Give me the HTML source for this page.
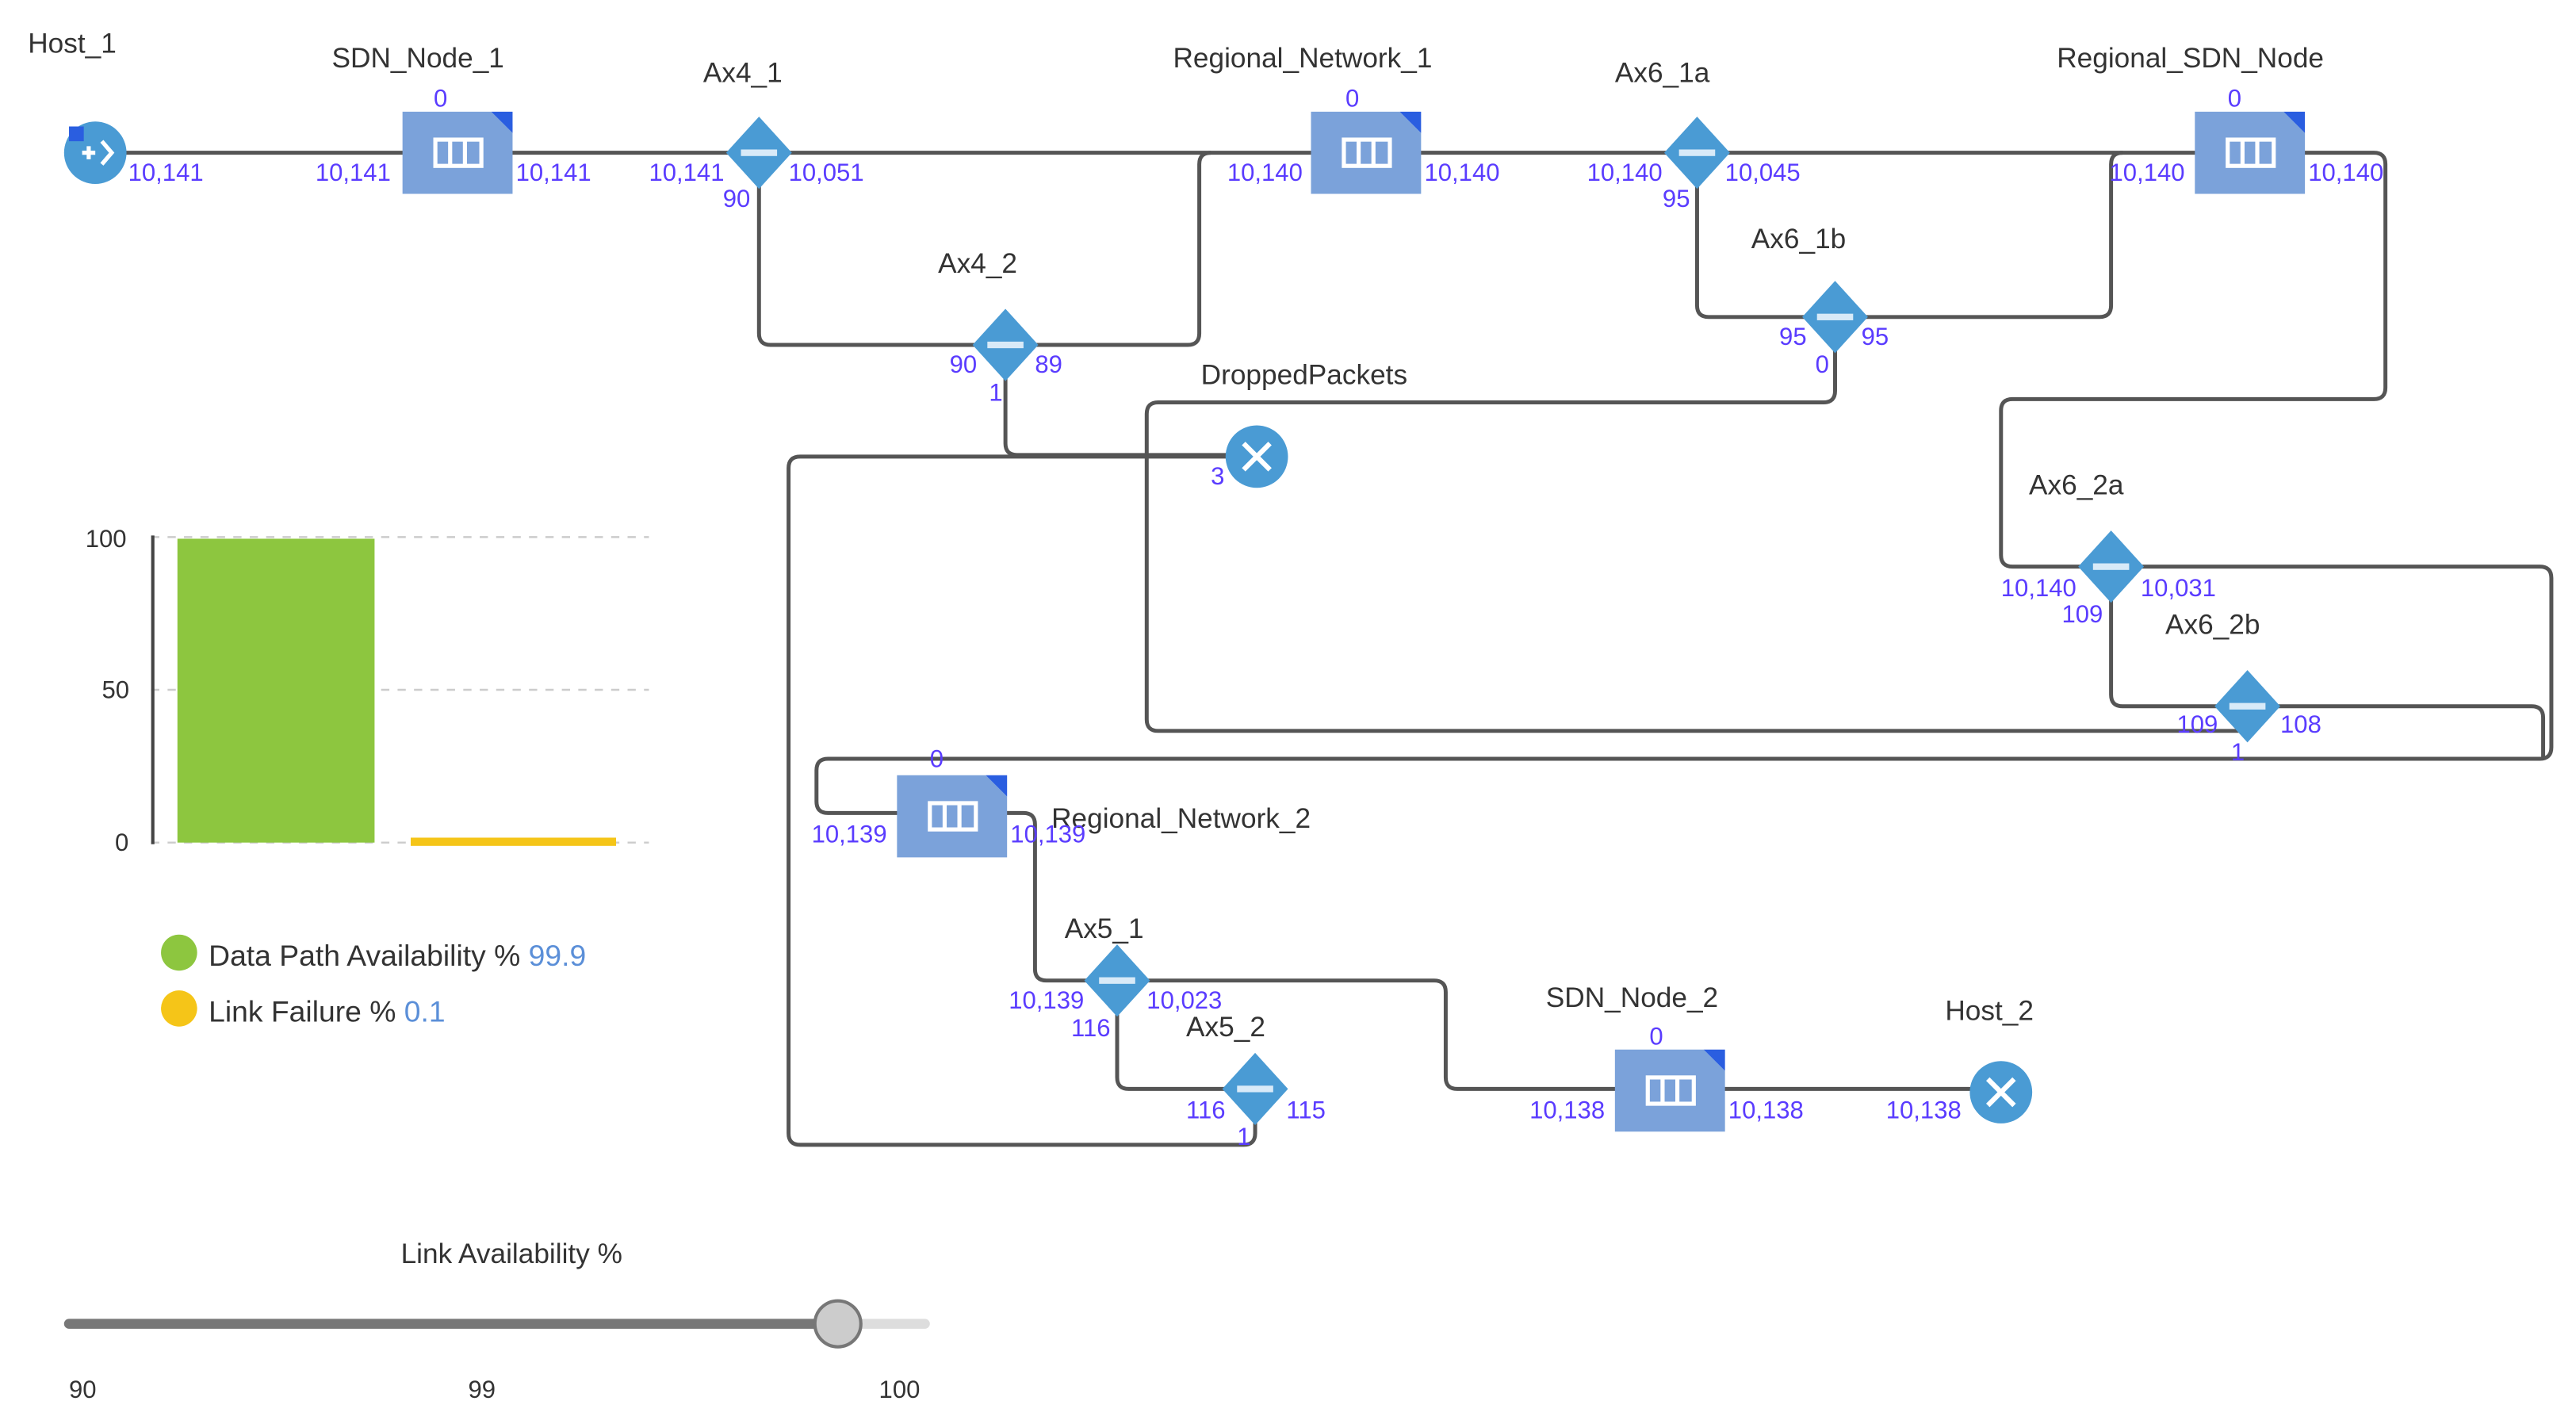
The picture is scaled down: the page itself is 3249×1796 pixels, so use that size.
<!DOCTYPE html>
<html><head><meta charset="utf-8"><style>
html,body{margin:0;padding:0;background:#fff;}
svg{display:block;}
.l{font-family:"Liberation Sans",sans-serif;font-size:17px;fill:#333;}
.n{font-family:"Liberation Sans",sans-serif;font-size:15px;fill:#5a3cff;}
.w{fill:none;stroke:#555;stroke-width:2.4;stroke-linejoin:round;}
</style></head><body>
<svg width="3249" height="1796" viewBox="0 0 1568 867" preserveAspectRatio="none" xmlns="http://www.w3.org/2000/svg">
<defs>
<g id="box"><path d="M0,0 H54 L67,13 V50 H0 Z" fill="#7ba2da"/><path d="M54,0 H67 V13 Z" fill="#2a5ee0"/>
<rect x="20" y="17" width="28" height="16" fill="none" stroke="#fff" stroke-width="2.5"/><line x1="29" y1="17" x2="29" y2="33" stroke="#fff" stroke-width="2.5"/><line x1="38" y1="17" x2="38" y2="33" stroke="#fff" stroke-width="2.5"/></g>
<g id="dia"><path d="M0,-22 L20,0 L0,22 L-20,0 Z" fill="#4a9bd4"/><rect x="-11" y="-2" width="22" height="4" fill="#d8eaf8"/></g>
<g id="x"><circle r="19" fill="#4a9bd4"/><path d="M-8,-8 L8,8 M8,-8 L-8,8" stroke="#fff" stroke-width="3"/></g>
</defs>
<g class="w">
<path d="M58,93 H1445 Q1452,93 1452,100 V236 Q1452,243 1445,243 H1225 Q1218,243 1218,250 V338 Q1218,345 1225,345 H1285"/>
<path d="M462,93 V203 Q462,210 469,210 H723 Q730,210 730,203 V100 Q730,93 737,93"/>
<path d="M612,210 V270 Q612,277 619,277 H765"/>
<path d="M1033,93 V186 Q1033,193 1040,193 H1278 Q1285,193 1285,186 V100 Q1285,93 1292,93"/>
<path d="M1117,193 V238 Q1117,245 1110,245 H705 Q698,245 698,252 V438 Q698,445 705,445 H1368 V430"/>
<path d="M1285,345 H1546 Q1553,345 1553,352 V455 Q1553,462 1546,462 H504 Q497,462 497,469 V488 Q497,495 504,495 H548"/>
<path d="M1285,345 V423 Q1285,430 1292,430 H1541 Q1548,430 1548,437 V462"/>
<path d="M612,495 H623 Q630,495 630,502 V590 Q630,597 637,597 H873 Q880,597 880,604 V656 Q880,663 887,663 H1218"/>
<path d="M680,597 V656 Q680,663 687,663 H764 V690 Q764,697 757,697 H487 Q480,697 480,690 V285 Q480,278 487,278 H748"/>
</g>
<circle cx="58" cy="93" r="19" fill="#4a9bd4"/><path d="M42,77 h9 v9 h-9z" fill="#2a5ee0"/>
<path d="M50,93 h8 M54,89 v8 M62,86 l6,7 l-6,7" stroke="#fff" stroke-width="2.5" fill="none"/>
<use href="#box" x="245" y="68"/><use href="#box" x="798" y="68"/><use href="#box" x="1336" y="68"/>
<use href="#box" x="546" y="472"/><use href="#box" x="983" y="639"/>
<use href="#dia" x="462" y="93"/><use href="#dia" x="612" y="210"/><use href="#dia" x="1033" y="93"/>
<use href="#dia" x="1117" y="193"/><use href="#dia" x="1285" y="345"/><use href="#dia" x="1368" y="430"/>
<use href="#dia" x="680" y="597"/><use href="#dia" x="764" y="663"/>
<use href="#x" x="765" y="278"/><use href="#x" x="1218" y="665"/>
<text class="l" x="17" y="32">Host_1</text><text class="l" x="202" y="41">SDN_Node_1</text>
<text class="l" x="428" y="50">Ax4_1</text><text class="l" x="714" y="41">Regional_Network_1</text>
<text class="l" x="983" y="50">Ax6_1a</text><text class="l" x="1252" y="41">Regional_SDN_Node</text>
<text class="l" x="571" y="166">Ax4_2</text><text class="l" x="1066" y="151">Ax6_1b</text>
<text class="l" x="731" y="234">DroppedPackets</text><text class="l" x="1235" y="301">Ax6_2a</text>
<text class="l" x="1318" y="386">Ax6_2b</text><text class="l" x="640" y="504">Regional_Network_2</text>
<text class="l" x="648" y="571">Ax5_1</text><text class="l" x="722" y="631">Ax5_2</text>
<text class="l" x="941" y="613">SDN_Node_2</text><text class="l" x="1184" y="621">Host_2</text>
<g class="n">
<text x="78" y="110">10,141</text><text x="192" y="110">10,141</text><text x="314" y="110">10,141</text><text x="264" y="65">0</text>
<text x="395" y="110">10,141</text><text x="480" y="110">10,051</text><text x="440" y="126">90</text>
<text x="747" y="110">10,140</text><text x="867" y="110">10,140</text><text x="819" y="65">0</text>
<text x="966" y="110">10,140</text><text x="1050" y="110">10,045</text><text x="1012" y="126">95</text>
<text x="1284" y="110">10,140</text><text x="1405" y="110">10,140</text><text x="1356" y="65">0</text>
<text x="578" y="227">90</text><text x="630" y="227">89</text><text x="602" y="244">1</text>
<text x="1083" y="210">95</text><text x="1133" y="210">95</text><text x="1105" y="227">0</text>
<text x="737" y="295">3</text>
<text x="1218" y="363">10,140</text><text x="1303" y="363">10,031</text><text x="1255" y="379">109</text>
<text x="1325" y="446">109</text><text x="1388" y="446">108</text><text x="1358" y="463">1</text>
<text x="566" y="467">0</text><text x="494" y="513">10,139</text><text x="615" y="513">10,139</text>
<text x="614" y="614">10,139</text><text x="698" y="614">10,023</text><text x="652" y="631">116</text>
<text x="722" y="681">116</text><text x="783" y="681">115</text><text x="753" y="697">1</text>
<text x="1004" y="636">0</text><text x="931" y="681">10,138</text><text x="1052" y="681">10,138</text><text x="1148" y="681">10,138</text>
</g>
<g stroke="#ccc" stroke-dasharray="5,5" stroke-width="1.2"><line x1="92" y1="327" x2="395" y2="327"/><line x1="92" y1="420" x2="395" y2="420"/><line x1="92" y1="513" x2="395" y2="513"/></g>
<line x1="93" y1="326" x2="93" y2="514" stroke="#444" stroke-width="2"/>
<rect x="108" y="328" width="120" height="185" fill="#8dc63f"/>
<rect x="250" y="510" width="125" height="5" fill="#f5c518"/>
<text class="l" x="52" y="333" style="font-size:15px">100</text><text class="l" x="62" y="425" style="font-size:15px">50</text><text class="l" x="70" y="518" style="font-size:15px">0</text>
<circle cx="109" cy="580" r="11" fill="#8dc63f"/><circle cx="109" cy="614" r="11" fill="#f5c518"/>
<text class="l" x="127" y="588" style="font-size:18px">Data Path Availability % <tspan fill="#5b8fd8">99.9</tspan></text>
<text class="l" x="127" y="622" style="font-size:18px">Link Failure % <tspan fill="#5b8fd8">0.1</tspan></text>
<text class="l" x="244" y="769">Link Availability %</text>
<line x1="42" y1="806" x2="563" y2="806" stroke="#ddd" stroke-width="6" stroke-linecap="round"/>
<line x1="42" y1="806" x2="510" y2="806" stroke="#777" stroke-width="6" stroke-linecap="round"/>
<circle cx="510" cy="806" r="14" fill="#ccc" stroke="#777" stroke-width="2"/>
<text class="l" x="42" y="851" style="font-size:15px">90</text><text class="l" x="285" y="851" style="font-size:15px">99</text><text class="l" x="535" y="851" style="font-size:15px">100</text>
</svg>
</body></html>
